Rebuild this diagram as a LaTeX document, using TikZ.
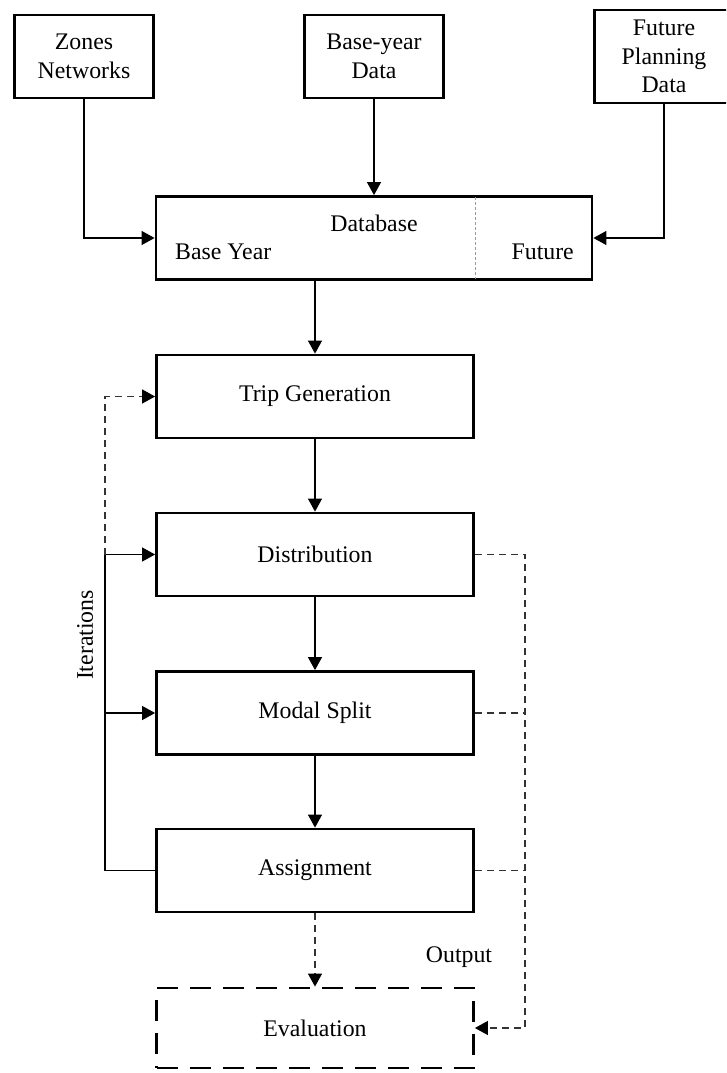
\documentclass[tikz,border=0pt]{standalone}
\usepackage{fontspec}
\setmainfont{Liberation Serif}
\usetikzlibrary{arrows.meta}
\begin{document}
\begin{tikzpicture}[x=1pt,y=-1pt,
  every node/.style={font=\fontsize{23.8pt}{28.5pt}\selectfont, inner sep=0pt},
  box/.style={draw, line width=2.8pt, minimum width=317pt, minimum height=83pt, align=center},
  srcbox/.style={draw, line width=2.8pt, minimum width=139pt, minimum height=83pt, align=center},
  evalbox/.style={draw, line width=2.8pt, dash pattern=on 21pt off 12pt, minimum width=317pt, minimum height=80pt, align=center},
  link/.style={draw, line width=1.1pt, black},
  dlink/.style={draw, line width=1.1pt, black!80, dash pattern=on 7pt off 5pt},
  tip/.style={-{Triangle[length=13pt,width=14pt,color=black]}},
  divider/.style={draw, line width=0.6pt, black!40, dash pattern=on 3pt off 2pt}
]
\clip (0,0) rectangle (726,1073);
\fill[white] (0,0) rectangle (726,1073);

% input boxes
\node[srcbox] (zones)  at (84,56.5)  {Zones\\Networks};
\node[srcbox] (base)   at (374,56.5) {Base-year\\Data};
\node[srcbox, minimum height=93pt] (future) at (664,56.5) {Future\\Planning\\Data};

% database with base-year and future parts
\node[draw, line width=2.8pt, minimum width=436pt, minimum height=83pt] (db) at (374,238) {};
\node (dbtitle) at (374,223) {Database};
\node[anchor=west] (dbbase) at (175,252) {Base Year};
\node[anchor=east] (dbfut) at (574,252) {Future};
\coordinate (divtop) at (475,197);
\coordinate (divbot) at (475,279);
\draw[divider] (divtop) -- (divbot);

% model stages
\node[box] (trip)   at (315,396.5) {Trip Generation};
\node[box] (dist)   at (315,554.5) {Distribution};
\node[box] (modal)  at (315,713)   {Modal Split};
\node[box] (assign) at (315,870.5) {Assignment};
\node[evalbox] (eval) at (315,1028) {Evaluation};

\node (out) at (459,957) {Output};
\node[rotate=90] (iter) at (85,635) {Iterations};

% inputs into the database
\draw[link, tip] (zones.south) |- (db.west);
\draw[link, tip] (base.south) -- (db.north);
\draw[link, tip] (future.south) |- (db.east);

% main chain
\draw[link, tip] (trip.north |- db.south) -- (trip.north);
\draw[link, tip] (trip) -- (dist);
\draw[link, tip] (dist) -- (modal);
\draw[link, tip] (modal) -- (assign);
\draw[dlink, tip] (assign) -- (eval);

% iteration loop on the left
\coordinate (lx) at (105,0);
\draw[link] (assign.west) -- (assign.west -| lx) -- (dist.west -| lx);
\draw[link, tip] (dist.west -| lx) -- (dist.west);
\draw[link, tip] (modal.west -| lx) -- (modal.west);
\draw[dlink, tip] (dist.west -| lx) -- (trip.west -| lx) -- (trip.west);

% outputs on the right
\coordinate (rx) at (525,0);
\draw[dlink, tip] (dist.east) -- (dist.east -| rx) -- (eval.east -| rx) -- (eval.east);
\draw[dlink] (modal.east) -- (modal.east -| rx);
\draw[dlink] (assign.east) -- (assign.east -| rx);
\end{tikzpicture}
\end{document}
